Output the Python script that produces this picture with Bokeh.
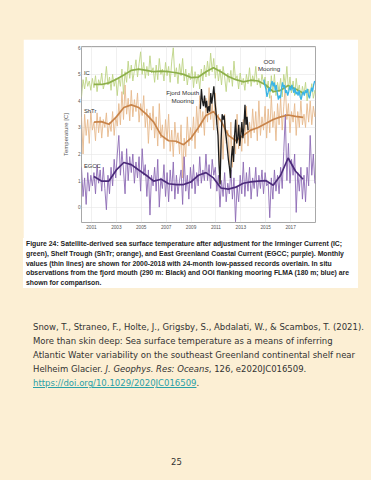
import numpy as np
from bokeh.plotting import figure
from bokeh.models import Div, Spacer, FixedTicker
from bokeh.layouts import column, row
from bokeh.embed import file_html
from bokeh.resources import INLINE
from bokeh.core.properties import value

# ---------------- data ----------------
x_ticks = [2001, 2003, 2005, 2007, 2009, 2011, 2013, 2015, 2017]
x_tick_labels = ["2001", "2003", "2005", "2007", "2009", "2011", "2013", "2015", "2017"]
y_ticks = [0, 1, 2, 3, 4, 5, 6]
y_tick_labels = ["0", "1", "2", "3", "4", "5", "6"]

monthly_start = 2000.2
monthly_step = 0.125

ic_thin = [
    4.15, 4.80, 4.45, 4.90, 4.55, 4.75, 4.40, 4.85,
    4.50, 4.95, 4.35, 4.80, 4.60, 5.05, 4.45, 4.70,
    5.30, 4.60, 4.90, 4.40, 5.00, 4.55, 4.85, 4.20,
    4.90, 4.55, 5.20, 4.25, 5.10, 4.70, 5.50, 4.85,
    5.35, 4.75, 5.15, 5.55, 4.90, 5.40, 5.85, 5.00,
    5.45, 4.85, 5.30, 4.95, 5.70, 5.05, 5.25, 4.70,
    5.35, 4.80, 5.60, 5.00, 5.20, 4.75, 5.45, 4.95,
    5.30, 4.70, 5.50, 6.00, 4.90, 5.25, 4.65, 5.40,
    4.95, 5.60, 4.75, 5.20, 4.60, 5.05, 4.80, 5.30,
    4.50, 5.10, 4.65, 5.00, 4.45, 5.20, 4.75, 5.35,
    4.90, 5.50, 4.95, 5.80, 5.10, 5.60, 4.85, 5.35,
    4.75, 5.20, 4.60, 5.30, 4.90, 4.35, 5.05, 4.70,
    5.15, 4.55, 5.50, 4.80, 4.95, 4.45, 5.05, 4.60,
    4.85, 4.40, 5.00, 4.65, 5.25, 4.55, 4.95, 4.70,
    5.30, 4.60, 4.85, 4.50, 5.00, 4.65, 4.90, 4.40,
    4.75, 4.10, 4.95, 4.30, 5.00, 4.20, 4.70, 4.35,
    4.85, 4.15, 5.00, 4.60, 5.30, 4.40, 4.90, 4.30,
    4.75, 4.20, 4.85, 4.35, 4.60, 4.05, 4.55, 4.25,
    4.70, 4.00, 4.45, 4.20, 4.65, 4.10, 4.40, 4.20,
]
shtr_thin = [
    3.40, 2.00, 3.50, 2.70, 3.30, 2.40, 3.60, 2.90,
    3.20, 2.50, 3.55, 2.80, 3.40, 2.60, 3.30, 3.00,
    3.55, 2.65, 3.20, 2.85, 3.60, 2.70, 3.40, 3.05,
    3.90, 3.10, 4.35, 3.30, 4.60, 3.50, 4.10, 3.25,
    4.40, 3.40, 4.05, 3.60, 4.30, 3.20, 3.90, 3.45,
    4.20, 3.00, 3.70, 2.40, 3.55, 2.90, 3.80, 2.60,
    3.40, 2.30, 3.90, 2.60, 3.10, 2.20, 3.30, 2.50,
    3.50, 2.10, 2.90, 1.90, 3.20, 2.40, 2.80, 2.00,
    3.10, 1.10, 2.60, 1.90, 3.40, 2.30, 3.00, 2.50,
    3.40, 2.20, 3.80, 2.80, 4.20, 3.00, 3.60, 2.70,
    4.10, 3.20, 4.50, 3.30, 3.90, 2.90, 4.30, 3.10,
    3.50, 0.90, 3.10, 1.80, 3.50, 2.40, 2.90, 1.60,
    3.20, 1.50, 2.70, 2.00, 3.50, 2.20, 3.00, 2.10,
    3.30, 2.40, 3.80, 2.30, 3.20, 2.60, 3.70, 2.80,
    3.60, 2.50, 4.00, 2.70, 3.40, 2.90, 3.80, 2.60,
    3.70, 2.80, 4.20, 3.00, 3.60, 2.50, 3.90, 3.10,
    4.10, 2.90, 3.80, 4.60, 3.30, 3.90, 2.80, 3.60,
    3.20, 3.90, 2.70, 3.60, 3.00, 4.00, 3.10, 3.50,
    3.00, 3.90, 3.20, 4.00, 3.10, 3.80, 3.40, 3.70,
]
egcc_thin = [
    1.50, 0.40, 1.10, 0.10, 1.30, 0.60, 1.20, 0.80,
    1.30, 0.50, 1.60, 0.90, 1.40, 0.60, 1.50, 0.70,
    -0.10, 1.20, 0.50, 1.50, 0.80, 1.80, 1.10, 2.00,
    2.70, 1.20, 2.10, 1.40, 0.50, 2.20, 1.00, 1.90,
    1.30, 2.00, 0.90, 1.70, 1.10, 1.90, 0.60, 2.20,
    1.20, 1.60, 0.40, 1.40, -0.30, 1.20, 0.80, 1.50,
    0.60, 1.80, 0.00, 1.10, 0.70, 1.60, 0.40, 1.30,
    0.20, 1.40, 0.60, 1.70, 0.30, 1.20, 0.50, 1.00,
    1.40, 0.10, 1.90, 0.60, 1.20, 0.30, 1.50, 0.70,
    1.60, 0.50, 1.30, 0.80, 1.90, 0.90, 1.40, 1.00,
    2.00, 1.00, 1.60, 0.70, 1.80, 1.20, 1.50, 0.60,
    1.20, 0.00, 1.00, 0.40, 1.30, 0.20, 0.90, 0.50,
    1.40, 0.30, 1.10, -0.55, 0.80, 0.20, 1.20, 0.50,
    1.70, 0.40, 1.30, 0.60, 1.50, 0.30, 1.10, 0.70,
    1.50, 0.40, 1.20, 0.70, 1.40, 0.50, 1.30, 0.80,
    0.90, -0.40, 1.10, 0.30, 1.40, 0.60, 1.20, 0.50,
    1.50, 0.70, 2.10, 3.50, 1.00, 2.40, 0.90, 1.80,
    1.20, 2.00, -0.20, 1.30, 0.60, 1.50, 0.30, 1.20,
    0.20, 1.50, 0.80, 2.70, 1.20, 2.00, 0.90, 0.90,
]

smooth_start = 2001.2
smooth_step = 0.6
ic_smooth = [4.62, 4.62, 4.68, 4.82, 4.98, 5.15, 5.20, 5.15, 5.10, 5.12,
             5.10, 5.06, 5.00, 4.88, 4.90, 5.10, 5.25, 5.10, 4.92, 4.80,
             4.72, 4.78, 4.75, 4.60, 4.35, 4.40, 4.58, 4.45, 4.30]
shtr_smooth = [3.20, 3.22, 3.12, 3.40, 3.75, 3.85, 3.75, 3.50, 3.20, 2.70,
               2.50, 2.48, 2.35, 2.60, 3.00, 3.45, 3.60, 3.25, 2.70, 2.50,
               2.70, 2.90, 3.00, 3.15, 3.30, 3.40, 3.47, 3.42, 3.38]
egcc_smooth = [1.15, 0.98, 0.98, 1.40, 1.68, 1.60, 1.40, 1.20, 0.98, 1.05,
               0.88, 0.85, 0.85, 0.95, 1.20, 1.30, 1.10, 0.72, 0.68, 0.75,
               0.90, 0.95, 0.98, 1.00, 0.82, 1.20, 1.85, 1.35, 1.05]

fjord_start = 2009.75
fjord_mouth = [3.70, 4.45, 4.00, 3.80, 4.20, 3.75, 4.00, 3.55, 3.80, 3.60,
               4.30, 3.90, 4.20, 4.55, 4.00, 3.60, 3.10, 2.70, 1.60, 0.85,
               2.50, 3.50, 3.30, 3.45, 2.90, 2.60, 2.20, 1.80, 1.50, 1.10,
               1.90, 2.30, 1.70, 2.70, 3.30, 2.40, 2.60, 3.10, 2.30, 2.70,
               3.20, 2.60, 3.00, 3.85, 3.10, 3.40, 2.90]
ooi_start = 2014.85
ooi_flma = [4.80, 4.60, 4.45, 4.15, 4.30, 4.50, 4.35, 4.60, 4.75, 4.55,
            4.70, 4.40, 4.60, 4.30, 4.05, 4.20, 4.10, 4.45, 4.70, 4.50,
            4.60, 4.30, 4.40, 4.20, 4.35, 4.55, 4.40, 4.60, 4.45, 4.30,
            4.50, 4.25, 4.35, 4.20, 4.40, 4.15, 4.05, 4.25, 4.35, 4.20,
            4.40, 4.30, 4.45, 4.20, 4.10, 4.30, 4.50, 4.35, 4.60, 4.75]

t_thin = monthly_start + monthly_step * np.arange(len(ic_thin))
t_smooth = smooth_start + smooth_step * np.arange(len(ic_smooth))
t_fjord = fjord_start + np.arange(len(fjord_mouth)) / 12.0
t_ooi = ooi_start + np.arange(len(ooi_flma)) / 12.0

# ---------------- page styling ----------------
CREAM = "#fcefd4"
FONT = "Liberation Sans"

p = figure(width=335, height=199, x_range=(2000.2, 2019.0), y_range=(-0.58, 6.05),
           output_backend="svg", toolbar_location=None,
           min_border_left=58, min_border_right=43, min_border_top=7, min_border_bottom=16,
           background_fill_color="white", border_fill_color="white",
           outline_line_color="#a8a8a8", outline_line_width=1)

for ax in (p.xaxis[0], p.yaxis[0]):
    ax.axis_line_color = None
    ax.major_tick_line_color = None
    ax.minor_tick_line_color = None
    ax.major_tick_out = 0
    ax.major_tick_in = 0
    ax.minor_tick_out = 0
    ax.minor_tick_in = 0
    ax.major_label_text_font = FONT
    ax.major_label_text_font_size = "4.7px"
    ax.major_label_text_color = "#555555"

p.xaxis.major_label_standoff = 2
p.yaxis.major_label_standoff = 1
p.xaxis.ticker = FixedTicker(ticks=x_ticks)
p.xaxis.major_label_overrides = {t: s for t, s in zip(x_ticks, x_tick_labels)}
p.yaxis.ticker = FixedTicker(ticks=y_ticks)
p.yaxis.major_label_overrides = {t: s for t, s in zip(y_ticks, y_tick_labels)}
p.yaxis.axis_label = "Temperature [C]"
p.yaxis.axis_label_text_font = FONT
p.yaxis.axis_label_text_font_size = "6px"
p.yaxis.axis_label_text_font_style = "normal"
p.yaxis.axis_label_text_color = "#555555"
p.yaxis.axis_label_standoff = 6

p.xgrid.ticker = FixedTicker(ticks=x_ticks)
p.ygrid.ticker = FixedTicker(ticks=y_ticks)
p.grid.grid_line_color = "#e6e6e6"
p.grid.grid_line_width = 0.6

# thin monthly lines
p.line(t_thin, ic_thin, line_color="#bdd484", line_width=0.9)
p.line(t_thin, shtr_thin, line_color="#e6b98c", line_width=0.9)
p.line(t_thin, egcc_thin, line_color="#8c6ab4", line_width=0.9)
# low-passed
p.line(t_smooth, ic_smooth, line_color="#8db04a", line_width=1.7)
p.line(t_smooth, shtr_smooth, line_color="#c8844a", line_width=1.7)
p.line(t_smooth, egcc_smooth, line_color="#4b2a7a", line_width=1.7)
# moorings
p.line(t_fjord, fjord_mouth, line_color="#1c1c1c", line_width=1.3)
p.line(t_ooi, ooi_flma, line_color="#38b4e6", line_width=1.3)

lab_kw = dict(text_font=value(FONT), text_font_size="5.8px", text_color="#333333",
              text_baseline="middle")
p.text(x=[2000.40, 2000.40, 2000.40], y=[5.04, 3.63, 1.54],
       text=["IC", "ShTr", "EGCC"], text_align="left", **lab_kw)
lab_kw["text_font_size"] = "6.2px"
p.text(x=[2008.33, 2008.33], y=[4.30, 4.02], text=["Fjord Mouth", "Mooring"],
       text_align="center", **lab_kw)
p.text(x=[2015.27, 2015.27], y=[5.48, 5.22], text=["OOI", "Mooring"],
       text_align="center", **lab_kw)

caption_lines = [
    "Figure 24: Satellite-derived sea surface temperature after adjustment for the Irminger Current (IC;",
    "green), Shelf Trough (ShTr; orange), and East Greenland Coastal Current (EGCC; purple). Monthly",
    "values (thin lines) are shown for 2000-2018 with 24-month low-passed records overlain. In situ",
    "observations from the fjord mouth (290 m: Black) and OOI flanking mooring FLMA (180 m; blue) are",
    "shown for comparison.",
]
caption = Div(width=335, height=50, margin=0,
              text=('<div style="background:white;width:335px;height:50px;box-sizing:border-box;'
                    'padding:1px 0 0 3px;font-family:\'Liberation Sans\';font-weight:bold;'
                    'font-size:6.85px;line-height:9.8px;color:#222;white-space:nowrap;overflow:hidden;">'
                    + "<br>".join(caption_lines) + "</div>"))

cite_html = (
    "Snow, T., Straneo, F., Holte, J., Grigsby, S., Abdalati, W., &amp; Scambos, T. (2021).<br>"
    "More than skin deep: Sea surface temperature as a means of inferring<br>"
    "Atlantic Water variability on the southeast Greenland continental shelf near<br>"
    "Helheim Glacier. <i>J. Geophys. Res: Oceans</i>, 126, e2020JC016509.<br>"
    '<a href="https://doi.org/10.1029/2020JC016509" style="color:#2aa0a6;">'
    "https://doi.org/10.1029/2020JC016509</a>."
)
citation = Div(width=371, height=165, margin=0,
               text=('<div style="width:371px;height:165px;box-sizing:border-box;padding:32px 0 0 33px;'
                     'font-family:\'DejaVu Sans\';font-size:8.5px;line-height:14px;color:#333;'
                     'white-space:nowrap;">' + cite_html + "</div>"))
pnum = Div(width=371, height=19, margin=0,
           text=('<div style="width:371px;height:19px;box-sizing:border-box;padding:0 0 0 171px;'
                 'font-family:\'DejaVu Sans\';font-size:8.5px;line-height:16px;color:#333;">25</div>'))

top = Spacer(width=371, height=39, margin=0)
left = Spacer(width=23, height=249, margin=0)
box = column(p, caption, spacing=0)
mid = row(left, box, spacing=0)
page = column(top, mid, citation, pnum, spacing=0)

html = file_html(page, INLINE)
html = html.replace("</head>", "<style>html,body{background:%s;}</style></head>" % CREAM, 1)
open("out.html", "w").write(html)
